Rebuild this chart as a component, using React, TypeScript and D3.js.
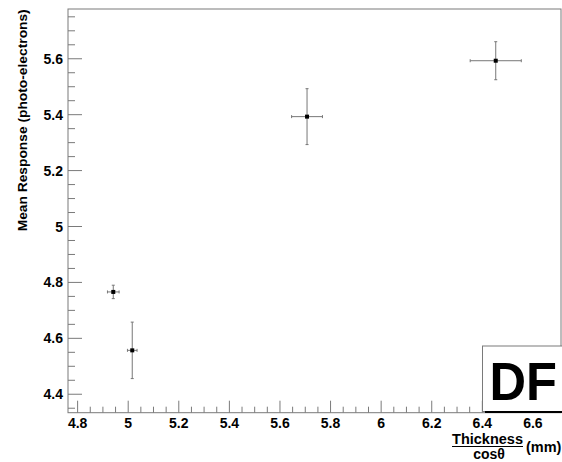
import React from "react";
import * as d3 from "d3";

const xValues = [4.941, 5.016, 5.707, 6.453];
const yValues = [4.766, 4.557, 5.393, 5.593];
const xErrors = [0.023, 0.019, 0.061, 0.101];
const yErrors = [0.024, 0.101, 0.1, 0.068];

const xTickValues = [4.8, 5.0, 5.2, 5.4, 5.6, 5.8, 6.0, 6.2, 6.4, 6.6];
const xTickLabels = ["4.8", "5", "5.2", "5.4", "5.6", "5.8", "6", "6.2", "6.4", "6.6"];
const yTickValues = [4.4, 4.6, 4.8, 5.0, 5.2, 5.4, 5.6];
const yTickLabels = ["4.4", "4.6", "4.8", "5", "5.2", "5.4", "5.6"];

const W = 562;
const H = 462;
const L = 68, R = 561, T = 9, B = 412.7;

const FONT = "'Liberation Sans', Arial, Helvetica, sans-serif";
const AXIS = "#7a7a7a";

export default function App() {
  const x = d3.scaleLinear().domain([4.762, 6.711]).range([L, R]);
  const y = d3.scaleLinear().domain([4.334, 5.778]).range([B, T]);

  const minorStep = 0.05;
  const xMinor = d3.range(Math.ceil(4.762 / minorStep), Math.floor(6.711 / minorStep) + 1).map((k) => k * minorStep);
  const yMinor = d3.range(Math.ceil(4.334 / minorStep), Math.floor(5.778 / minorStep) + 1).map((k) => k * minorStep);
  const isMajor = (v: number) => Math.abs(v / 0.2 - Math.round(v / 0.2)) < 1e-6;

  const capX = 1.5;
  return (
    <svg width={W} height={H} style={{ position: "absolute", left: 0, top: 0, background: "#fff" }} fontFamily={FONT}>
      <rect x={0} y={0} width={W} height={H} fill="#fff" />
      <rect x={L} y={T} width={R - L} height={B - T} fill="none" stroke={AXIS} strokeWidth={1} />
      {yMinor.map((v, i) => (
        <line key={"ym" + i} x1={L} x2={L + (isMajor(v) ? 14 : 7)} y1={y(v)} y2={y(v)} stroke={AXIS} strokeWidth={1} />
      ))}
      {xMinor.map((v, i) => (
        <line key={"xm" + i} x1={x(v)} x2={x(v)} y1={B} y2={B - (isMajor(v) ? 12 : 6)} stroke={AXIS} strokeWidth={1} />
      ))}
      {yTickValues.map((v, i) => (
        <text key={"yl" + i} x={63} y={y(v) + 5} textAnchor="end" fontSize={14} fontWeight="bold" fill="#000">
          {yTickLabels[i]}
        </text>
      ))}
      {xTickValues.map((v, i) => (
        <text key={"xl" + i} x={x(v)} y={427.5} textAnchor="middle" fontSize={14} fontWeight="bold" fill="#000">
          {xTickLabels[i]}
        </text>
      ))}
      {xValues.map((xv, i) => {
        const cx = x(xv), cy = y(yValues[i]);
        const x0 = x(xv - xErrors[i]), x1 = x(xv + xErrors[i]);
        const y0 = y(yValues[i] - yErrors[i]), y1 = y(yValues[i] + yErrors[i]);
        return (
          <g key={"p" + i} stroke="#777" strokeWidth={1}>
            <line x1={x0} x2={x1} y1={cy} y2={cy} />
            <line x1={cx} x2={cx} y1={y0} y2={y1} />
            <line x1={x0} x2={x0} y1={cy - capX} y2={cy + capX} />
            <line x1={x1} x2={x1} y1={cy - capX} y2={cy + capX} />
            <line x1={cx - capX} x2={cx + capX} y1={y0} y2={y0} />
            <line x1={cx - capX} x2={cx + capX} y1={y1} y2={y1} />
            <rect x={cx - 2} y={cy - 2} width={4} height={4} fill="#000" stroke="none" />
          </g>
        );
      })}
      <rect x={482.5} y={346} width={80} height={65.5} fill="#fff" stroke={AXIS} strokeWidth={1} />
      <rect x={485} y={411} width={80} height={2} fill="#000" />
      <text x={489.5} y={400} fontSize={53} fontWeight="bold" fill="#000" textLength={67.5} lengthAdjust="spacingAndGlyphs">DF</text>
      <text transform="translate(26.5,9.3) rotate(-90)" textAnchor="end" fontSize={13.5} fontWeight="bold" fill="#000"
        textLength={222} lengthAdjust="spacingAndGlyphs">
        Mean Response (photo-electrons)
      </text>
      <text x={487.5} y={444} textAnchor="middle" fontSize={14.5} fontWeight="bold" fill="#000">Thickness</text>
      <line x1={452} x2={523} y1={446.5} y2={446.5} stroke="#000" strokeWidth={1} />
      <text x={489} y={458.5} textAnchor="middle" fontSize={14} fontWeight="bold" fill="#000">cosθ</text>
      <text x={526} y={452} fontSize={14.5} fontWeight="bold" fill="#000">(mm)</text>
    </svg>
  );
}
